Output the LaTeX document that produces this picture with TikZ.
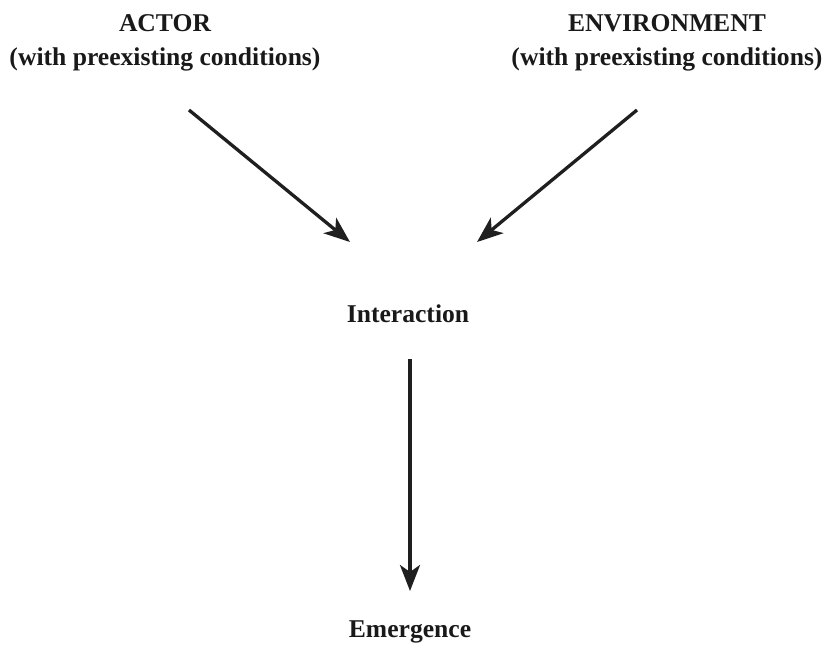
\documentclass[tikz,border=0pt]{standalone}
\usepackage{fontspec}
\setmainfont{Liberation Serif}
\usetikzlibrary{arrows.meta}
\begin{document}
\begin{tikzpicture}[x=1pt,y=-1pt,
  lbl/.style={font=\fontsize{25.6}{34}\selectfont\bfseries, text=black!90, align=center, inner sep=0pt, anchor=base},
  arr/.style={line width=3.3pt, draw=black!88, -{Stealth[length=26pt,width=20pt,inset=7pt]}}]
\useasboundingbox (0,0) rectangle (836,646);
\node[lbl] (actor) at (165,65) {ACTOR\\(with preexisting conditions)};
\node[lbl] (env) at (667,65) {ENVIRONMENT\\(with preexisting conditions)};
\node[lbl] (inter) at (408,322) {Interaction};
\node[lbl] (emer) at (410,637) {Emergence};
\coordinate (a1) at (189,110);
\coordinate (a2) at (350,242);
\coordinate (b1) at (637,110);
\coordinate (b2) at (477,242);
\coordinate (c1) at (410,359);
\coordinate (c2) at (410,591);
\draw[arr] (a1) -- (a2);
\draw[arr] (b1) -- (b2);
\draw[arr] (c1) -- (c2);
\end{tikzpicture}
\end{document}
